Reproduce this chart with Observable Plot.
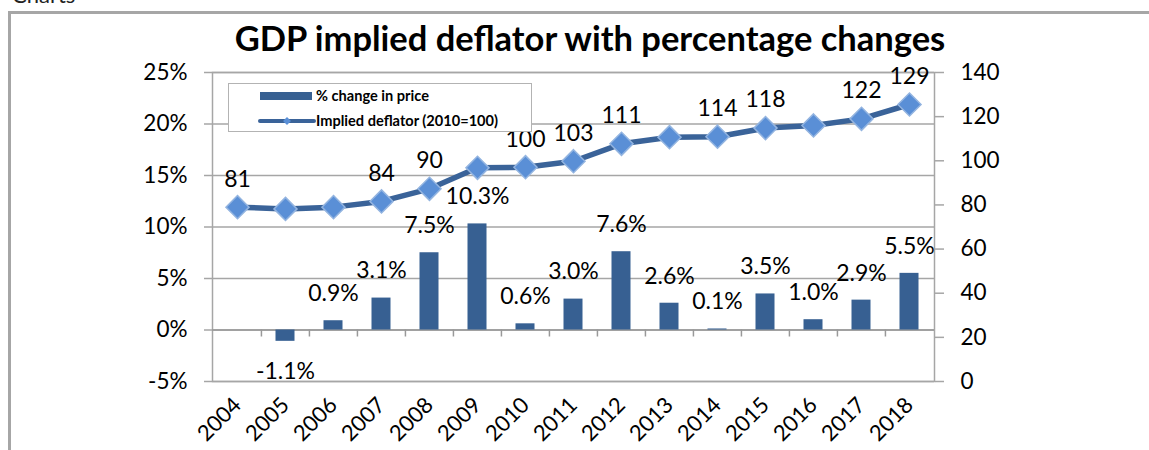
<!DOCTYPE html>
<html>
<head>
<meta charset="utf-8">
<script src="https://cdn.jsdelivr.net/npm/d3@7"></script>
<script src="https://cdn.jsdelivr.net/npm/@observablehq/plot@0.6"></script>
<style>
  html, body { margin: 0; padding: 0; background: white; overflow: hidden; }
  #wrap { position: relative; width: 1149px; height: 450px; font-family: Lato, "Open Sans", sans-serif; }
  #chart { position: absolute; left: 0; top: 0; }
  #frame { position: absolute; left: 8px; top: 11px; width: 2000px; height: 1000px; border: 3px solid #a6a6a6; pointer-events: none; }
  #overlay { position: absolute; left: 0; top: 0; pointer-events: none; }
  #legend { position: absolute; left: 228px; top: 83px; width: 302px; height: 47px; border: 1.5px solid #b3b3b3; background: white; }
</style>
</head>
<body>
<div id="wrap">
  <div id="chart"></div>
  <div id="legend"></div>
  <svg id="overlay" width="1149" height="450"></svg>
  <div id="frame"></div>
</div>
<script>
// ---- data ----
const years = ["2004","2005","2006","2007","2008","2009","2010","2011","2012","2013","2014","2015","2016","2017","2018"];
const pctChange = [null, -1.1, 0.9, 3.1, 7.5, 10.3, 0.6, 3.0, 7.6, 2.6, 0.1, 3.5, 1.0, 2.9, 5.5];
const deflator = [79.0, 78.2, 79.0, 81.6, 87.3, 96.8, 97.1, 99.8, 107.7, 110.7, 110.9, 114.8, 116.0, 119.0, 125.5];
const deflatorLabels = ["81", null, null, "84", "90", null, "100", "103", "111", null, "114", "118", null, "122", "129"];
const leftTicks = [-5, 0, 5, 10, 15, 20, 25];
const rightTicks = [0, 20, 40, 60, 80, 100, 120, 140];
const titleText = "GDP implied deflator with percentage changes";
const seriesNames = ["% change in price", "Implied deflator (2010=100)"];

// ---- layout ----
const W = 1149, H = 450, ML = 212, MR = 215, MT = 72, MB = 69;
const bw = (W - ML - MR) / years.length;
const barColor = "#376092", lineColor = "#3a6399", markFill = "#5a8fd6", markStroke = "#93b4e0", gridColor = "#a6a6a6";

// secondary axis mapping (0..140 -> -5..25)
const toPct = v => -5 + v * 30 / 140;
const fromPct = p => (p + 5) * 140 / 30;

const bars = years.map((y, i) => ({year: y, v: pctChange[i]})).filter(d => d.v != null);
const defl = years.map((y, i) => ({year: y, v: deflator[i], label: deflatorLabels[i]}));

const plot = Plot.plot({
  width: W, height: H,
  marginLeft: ML, marginRight: MR, marginTop: MT, marginBottom: MB,
  style: {fontFamily: "Lato, 'Open Sans', sans-serif", fontSize: "22px", background: "transparent", color: "black"},
  x: {type: "band", domain: years, padding: 0},
  y: {domain: [-5, 25]},
  marks: [
    Plot.ruleY(leftTicks, {stroke: gridColor, strokeWidth: 1.5}),
    Plot.frame({stroke: gridColor, strokeWidth: 1.5}),
    Plot.ruleY([0], {stroke: "#999999", strokeWidth: 1.5}),
    Plot.ruleX(years.slice(1), {x: d => d, y1: 0, y2: 0, insetBottom: -7, dx: -bw / 2, stroke: "#999999", strokeWidth: 1.5}),
    Plot.axisY(leftTicks, {anchor: "left", tickFormat: d => d + "%", tickSize: 8, tickPadding: 17, stroke: gridColor, strokeWidth: 1.5, fill: "black", fontSize: 22.5, label: null}),
    Plot.axisY(rightTicks.map(toPct), {anchor: "right", tickFormat: p => String(Math.round(fromPct(p))), tickSize: 9, tickPadding: 17, stroke: gridColor, strokeWidth: 1.5, fill: "black", fontSize: 22.5, label: null}),
    Plot.axisX({anchor: "bottom", tickRotate: -45, tickSize: 0, tickPadding: 20, fill: "black", fontSize: 22, label: null}),
    Plot.barY(bars, {x: "year", y: "v", fill: barColor, insetLeft: 14.5, insetRight: 14.5}),
    Plot.line(defl, {x: "year", y: d => toPct(d.v), stroke: lineColor, strokeWidth: 5.5, curve: "linear"}),
    Plot.dot(defl, {x: "year", y: d => toPct(d.v), symbol: "diamond2", r: 10.4, fill: markFill, stroke: markStroke, strokeWidth: 1.5}),
    Plot.text(bars.filter(d => d.v >= 0), {x: "year", y: "v", text: d => d.v.toFixed(1) + "%", dy: -27, fontSize: 23, fill: "black"}),
    Plot.text(bars.filter(d => d.v < 0), {x: "year", y: "v", text: d => d.v.toFixed(1) + "%", dy: 30, fontSize: 23, fill: "black"}),
    Plot.text(defl.filter(d => d.label), {x: "year", y: d => toPct(d.v), text: "label", dy: -28, fontSize: 23, fill: "black"})
  ]
});
document.getElementById("chart").appendChild(plot);

// ---- title & top-left fragment ----
const ov = d3.select("#overlay");
ov.append("text").attr("x", 12).attr("y", 3).attr("font-family", "Lato, sans-serif").attr("font-size", 22).attr("fill", "#222").text("Charts");
ov.append("text").attr("x", 590).attr("y", 51).attr("text-anchor", "middle")
  .attr("font-family", "Lato, sans-serif").attr("font-weight", "bold").attr("font-size", 34.5).attr("fill", "black").text(titleText);

// ---- legend ----
const lg = d3.select("#legend").append("svg").attr("width", 302).attr("height", 47);
lg.append("rect").attr("x", 31).attr("y", 8).attr("width", 52).attr("height", 8).attr("fill", barColor);
lg.append("text").attr("x", 87).attr("y", 12).attr("dy", "0.35em").attr("font-family", "Lato, sans-serif").attr("font-weight", "bold").attr("font-size", 14.6).text(seriesNames[0]);
lg.append("line").attr("x1", 31).attr("x2", 85).attr("y1", 37).attr("y2", 37).attr("stroke", lineColor).attr("stroke-width", 4).attr("stroke-linecap", "round");
lg.append("path").attr("d", d3.symbol(d3.symbolDiamond2, 40)()).attr("transform", "translate(58,37)").attr("fill", markFill);
lg.append("text").attr("x", 87).attr("y", 37).attr("dy", "0.35em").attr("font-family", "Lato, sans-serif").attr("font-weight", "bold").attr("font-size", 14.6).text(seriesNames[1]);
</script>
</body>
</html>
